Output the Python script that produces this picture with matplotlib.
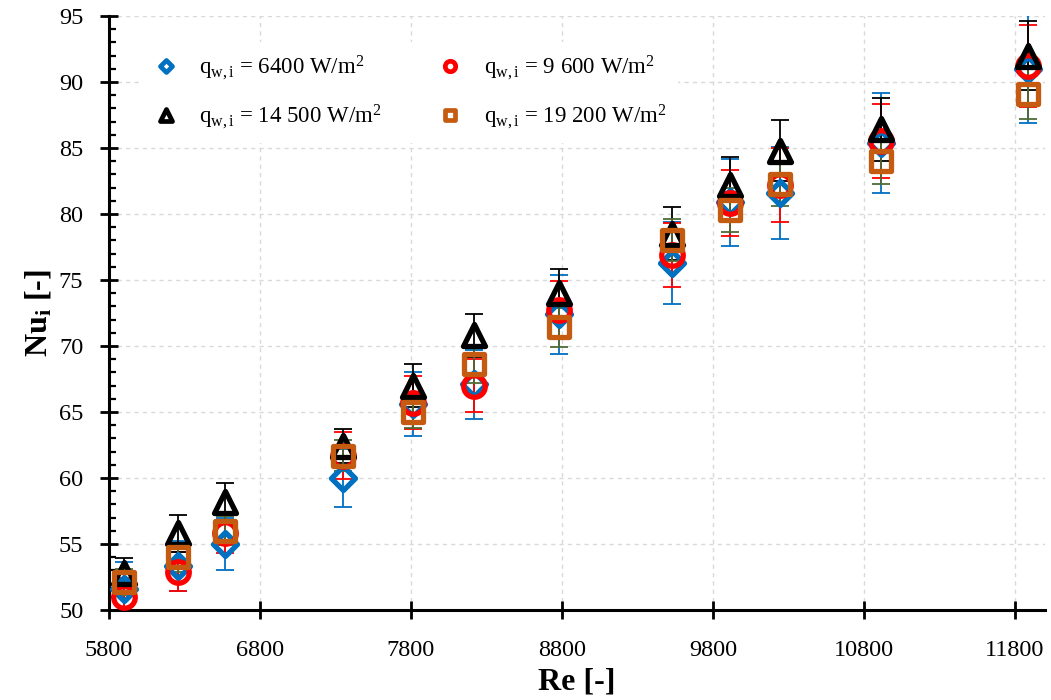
import matplotlib
matplotlib.use("Agg")
import matplotlib.pyplot as plt
from matplotlib.lines import Line2D
from matplotlib.markers import MarkerStyle

plt.rcParams["font.family"] = ["Liberation Serif", "DejaVu Serif"]
plt.rcParams["mathtext.fontset"] = "custom"
plt.rcParams["mathtext.rm"] = "Liberation Serif"
plt.rcParams["mathtext.it"] = "Liberation Serif:italic"
plt.rcParams["mathtext.bf"] = "Liberation Serif:bold"

# Reynolds number of each measurement point
re = [5900, 6256, 6567, 7348, 7811, 8221, 8783, 9530, 9914, 10244, 10912, 11885]

# local Nusselt number per wall heat flux
nu_6400 = [51.6, 53.3, 55.0, 60.0, 65.6, 67.1, 72.4, 76.3, 80.9, 81.6, 85.4, 91.0]
nu_9600 = [51.0, 52.9, 55.8, 61.7, 65.7, 67.0, 72.7, 76.9, 80.8, 82.2, 85.5, 91.2]
nu_14500 = [52.8, 55.8, 58.2, 62.4, 67.0, 70.8, 74.0, 78.5, 82.2, 84.8, 86.4, 92.0]
nu_19200 = [52.1, 54.0, 56.0, 61.7, 65.0, 68.6, 71.4, 78.0, 80.3, 82.3, 84.0, 89.1]

# measurement uncertainty (+/-)
err_6400 = [2.0, 1.9, 2.0, 2.2, 2.4, 2.6, 3.0, 3.1, 3.3, 3.5, 3.8, 4.1]
err_9600 = [1.4, 1.5, 1.5, 1.8, 2.0, 2.0, 2.2, 2.4, 2.5, 2.8, 2.8, 3.1]
err_14500 = [1.1, 1.4, 1.4, 1.3, 1.6, 1.6, 1.8, 2.0, 2.1, 2.3, 2.4, 2.6]
err_19200 = [1.0, 1.1, 1.1, 1.2, 1.2, 1.4, 1.5, 1.6, 1.7, 1.7, 1.7, 1.9]

labels = [
    r"q$_{\mathrm{w,i}}$ = 6400 W/m$^{2}$",
    r"q$_{\mathrm{w,i}}$ = 9 600 W/m$^{2}$",
    r"q$_{\mathrm{w,i}}$ = 14 500 W/m$^{2}$",
    r"q$_{\mathrm{w,i}}$ = 19 200 W/m$^{2}$",
]

# (values, errors, marker, size, legend size, marker colour, error-bar colour)
SERIES = [
    (nu_6400, err_6400, "D", 12.0, 6.0, "#0070C0", "#0070C0"),
    (nu_9600, err_9600, "o", 15.5, 7.5, "#FF0000", "#FF0000"),
    (nu_14500, err_14500, "^", 15.5, 8.0, "#000000", "#000000"),
    (nu_19200, err_19200, "s", 14.5, 7.0, "#C55A11", "#4F6B35"),
]

fig = plt.figure(figsize=(10.51, 7.0), dpi=100)
ax = fig.add_axes([0.1037, 0.1286, 0.8906, 0.8486])

handles = []
for (nu, err, mk, ms, lms, col, ecol), lab in zip(SERIES, labels):
    ax.errorbar(re, nu, yerr=err, fmt="none", ecolor=ecol, elinewidth=1.3,
                capsize=6.5, capthick=1.3, zorder=2)
    ax.plot(re, nu, ls="none", marker=MarkerStyle(mk, joinstyle="round"),
            ms=ms, mfc="none", mec=col, mew=3.8, zorder=3)
    handles.append(Line2D([], [], ls="none", marker=MarkerStyle(mk, joinstyle="round"),
                          ms=lms, mfc="none", mec=col, mew=3.4, label=lab))

# two legend rows: 6400 | 9 600, then 14 500 | 19 200
order = [0, 2, 1, 3]

ax.set_xlim(5800, 12000)
ax.set_ylim(50, 95)
ax.set_xticks(range(5800, 12000, 1000))
ax.set_yticks(range(50, 96, 5))
ax.set_yticks(range(50, 96, 1), minor=True)

for s in ("top", "right"):
    ax.spines[s].set_visible(False)
for s in ("left", "bottom"):
    ax.spines[s].set_linewidth(2.2)

ax.tick_params(axis="both", which="major", direction="inout", length=13,
               width=2.0, labelsize=17.5)
ax.tick_params(axis="y", which="minor", direction="in", length=5, width=1.6)
ax.tick_params(axis="y", which="major", pad=12)
ax.tick_params(axis="x", which="major", pad=15)

ax.grid(True, which="major", color="#d9d9d9", linestyle=(0, (3, 3)), linewidth=1.0)
ax.set_axisbelow(True)

ax.set_xlabel("Re [-]", fontsize=23, fontweight="bold", labelpad=5)
ax.set_ylabel(r"Nu$_{\mathbf{i}}$ [-]", fontsize=23, fontweight="bold", labelpad=4)

leg = ax.legend(handles=[handles[i] for i in order], ncol=2, loc="upper left",
                bbox_to_anchor=(0.024, 0.975), fontsize=16.5, frameon=True,
                facecolor="white", edgecolor="none", framealpha=1.0,
                handlelength=1.0, handletextpad=0.95, columnspacing=2.5,
                labelspacing=0.9, borderpad=0.5)
leg.set_zorder(5)

fig.savefig("out.png", dpi=100)
